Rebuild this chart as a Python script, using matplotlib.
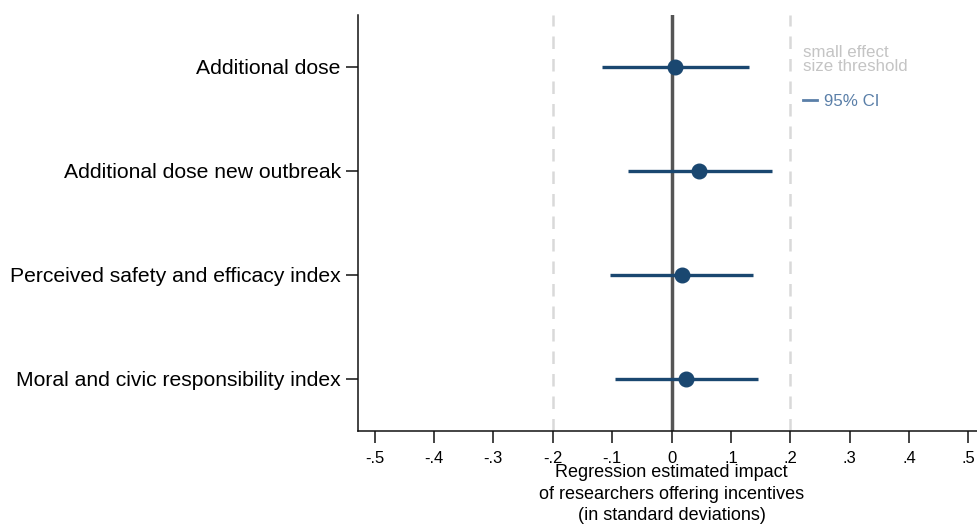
import matplotlib
matplotlib.use("Agg")
import matplotlib.pyplot as plt
from matplotlib.lines import Line2D

plt.rcParams['font.family'] = ['Liberation Sans', 'DejaVu Sans']

labels = ["Additional dose", "Additional dose new outbreak",
          "Perceived safety and efficacy index", "Moral and civic responsibility index"]
estimates = [0.006, 0.046, 0.017, 0.025]
ci_low = [-0.117, -0.074, -0.103, -0.095]
ci_high = [0.130, 0.169, 0.138, 0.145]
xticks = [-0.5, -0.4, -0.3, -0.2, -0.1, 0, 0.1, 0.2, 0.3, 0.4, 0.5]
xticklabels = ["-.5", "-.4", "-.3", "-.2", "-.1", "0", ".1", ".2", ".3", ".4", ".5"]
threshold = 0.2

fig = plt.figure(figsize=(9.77, 5.29), dpi=100)
W, H = 977, 529
ax = fig.add_axes([358 / W, (H - 431) / H, (985 - 358) / W, (431 - 15) / H])

navy = "#1a4770"
ypos = list(range(1, len(labels) + 1))

ax.axvline(-threshold, color="#d9d9d9", lw=1.8, ls=(0, (5, 4)), zorder=1)
ax.axvline(threshold, color="#d9d9d9", lw=1.8, ls=(0, (5, 4)), zorder=1)
ax.axvline(0, color="#555555", lw=2.5, zorder=2)

ax.hlines(ypos, ci_low, ci_high, color=navy, lw=2.4, zorder=3)
ax.plot(estimates, ypos, "o", color=navy, ms=10.5, zorder=4)

ax.set_ylim(4.5, 0.5)
ax.set_xlim(-0.528, 0.528)
ax.set_yticks(ypos)
ax.set_yticklabels(labels, fontsize=15.2)
ax.set_xticks(xticks)
ax.set_xticklabels(xticklabels, fontsize=12)
ax.tick_params(axis="both", length=8.5, width=1.1, color="#111111")
ax.tick_params(axis="y", pad=4)
ax.tick_params(axis="x", pad=6)

for s in ["top", "right"]:
    ax.spines[s].set_visible(False)
for s in ["left", "bottom"]:
    ax.spines[s].set_linewidth(1.1)
    ax.spines[s].set_color("#111111")

ax.set_xlabel("Regression estimated impact\nof researchers offering incentives\n(in standard deviations)",
              fontsize=13, labelpad=-1.5, linespacing=1.36)

ax.text(0.222, 0.785, "small effect\nsize threshold", color="#c4c4c4", fontsize=12.2,
        va="top", ha="left", linespacing=0.98)

leg = ax.legend(handles=[Line2D([], [], color="#5a7fa8", lw=2.0)], labels=["95% CI"],
                frameon=False, handlelength=0.85, handletextpad=0.4, fontsize=12.2,
                labelcolor="#5a7fa8", loc="center left",
                bbox_to_anchor=((803 - 358) / (985 - 358), (431 - 101) / (431 - 15)),
                borderpad=0, borderaxespad=0)

fig.savefig("out.png", dpi=100)
